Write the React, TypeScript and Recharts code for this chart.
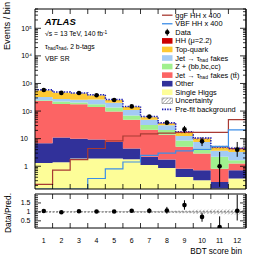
import React from 'react';
import { ComposedChart, Area, Line, Scatter, XAxis, YAxis, ErrorBar, ReferenceLine } from 'recharts';

// ---------------- data ----------------
const binLabels = ['1', '2', '3', '4', '5', '6', '7', '8', '9', '10', '11', '12'];

const singleHiggs = [1.3, 1.4, 1.9, 1.9, 1.9, 1.8, 1.1, 0.87, 0.41, 0.31, 0.155, 0.36];
const other = [5.5, 9.6, 8.0, 7.4, 5.7, 2.6, 1.1, 0.88, 0.41, 0.41, 0.115, 0.36];
const ttbarFakes = [225, 170, 167, 132, 88, 44, 19, 12, 4.3, 2.2, 0.55, 0.53];
const zHeavyFlavour = [15, 40, 28, 36, 38, 21, 10, 7, 3.4, 1.5, 1.4, 0.4];
const jetFakes = [75, 55, 55, 83, 66, 41, 17, 10, 4, 3.2, 1.4, 1.65];
const topQuark = [240, 190, 175, 110, 50, 30, 12, 5, 4, 2.4, 1.2, 0.8];
const hhSignal = [0.002, 0.004, 0.01, 0.02, 0.04, 0.07, 0.09, 0.1, 0.1, 0.1, 0.11, 0.35];

const ggFx400 = [0.22, 0.72, 1.75, 4.4, 8.3, 12.5, 15, 16, 17, 17, 17, 49];
const vbfx400 = [0.15, 0.15, 0.15, 0.36, 0.8, 1.43, 2.5, 3.0, 3.6, 4.1, 5.3, 21];
const prefitBkg = [595, 490, 455, 390, 262, 148, 63, 37.5, 18, 10.5, 5.0, 4.5];

const dataCounts = [580, 455, 450, 375, 252, 148, 63, 38, 22, 8, 1, 4];
const dataErrLow = [24, 21, 21, 19, 16, 12, 8, 6, 6, 2.6, 0.82, 1.8];
const dataErrHigh = [24, 21, 21, 19, 16, 12, 8, 7, 7, 3, 2.3, 3.6];

const uncRel = [0.04, 0.04, 0.04, 0.04, 0.04, 0.05, 0.05, 0.06, 0.08, 0.12, 0.13, 0.14];

const ratio = [1.05, 0.98, 1.04, 1.02, 1.02, 1.06, 1.06, 1.08, 1.38, 0.72, 0.15, 1.06];
const ratioErrLow = [0.04, 0.05, 0.05, 0.05, 0.06, 0.09, 0.14, 0.18, 0.26, 0.27, 0.05, 0.54];
const ratioErrHigh = [0.04, 0.05, 0.05, 0.05, 0.06, 0.09, 0.14, 0.2, 0.27, 0.23, 0.6, 0.9];

// tick values
const logMajorHigh = [100, 1000, 10000, 100000];
const logMajorLow = [1, 10];
const logMinor = [0.2, 0.3, 0.4, 0.5, 0.6, 0.7, 0.8, 0.9, 2, 3, 4, 5, 6, 7, 8, 9, 20, 30, 40, 50, 60, 70, 80, 90,
  200, 300, 400, 500, 600, 700, 800, 900, 2000, 3000, 4000, 5000, 6000, 7000, 8000, 9000,
  20000, 30000, 40000, 50000, 60000, 70000, 80000, 90000, 200000, 300000, 400000, 500000];
const ratioMajor = [0.5, 1, 1.5];
const ratioMinor = [0.2, 0.3, 0.4, 0.6, 0.7, 0.8, 0.9, 1.1, 1.2, 1.3, 1.4, 1.6, 1.7, 1.8, 1.9];

// ---------------- style ----------------
const FONT = '"Liberation Sans", Arial, Helvetica, sans-serif';
const W = 266;
const H = 255;
const Y_MIN = 0.15;
const Y_MAX = 5e5;
const R_MIN = 0.1;
const R_MAX = 2.0;
const EPS = 0.01;

const C = {
  singleHiggs: '#fdfd98',
  other: '#31319a',
  ttbar: '#fc6464',
  zhf: '#a0f08e',
  jet: '#a3cbf4',
  top: '#fec932',
  hh: '#cc0000',
  ggF: '#a83a33',
  vbf: '#3c8ee8',
  prefit: '#1c1cb4',
};

const stack = [
  { key: 'singleHiggs', values: singleHiggs, color: C.singleHiggs },
  { key: 'other', values: other, color: C.other },
  { key: 'ttbar', values: ttbarFakes, color: C.ttbar },
  { key: 'zhf', values: zHeavyFlavour, color: C.zhf },
  { key: 'jet', values: jetFakes, color: C.jet },
  { key: 'top', values: topQuark, color: C.top },
  { key: 'hh', values: hhSignal, color: C.hh },
];

const nBins = binLabels.length;
const edges = Array.from({ length: nBins + 1 }, (_, i) => i + 0.5);
const innerEdges = edges.slice(1, -1);
const centers = binLabels.map((_, i) => i + 1);

const stepRows = edges.map((x, i) => {
  const b = Math.min(i, nBins - 1);
  const row: Record<string, any> = { x };
  let cum = 0;
  for (const s of stack) {
    const lo = cum;
    cum += s.values[b];
    row[s.key] = [Math.max(lo, Y_MIN), Math.max(cum, Y_MIN)];
  }
  row.unc = [cum * (1 - uncRel[b]), cum * (1 + uncRel[b])];
  row.ratioUnc = [1 - uncRel[b], 1 + uncRel[b]];
  row.ggF = ggFx400[b];
  row.vbf = vbfx400[b];
  row.prefit = prefitBkg[b];
  return row;
});

const dataRows = centers.map((x, i) => ({ x, y: dataCounts[i], err: [dataErrLow[i], dataErrHigh[i]] }));
const ratioRows = centers.map((x, i) => ({ x, y: ratio[i], err: [ratioErrLow[i], ratioErrHigh[i]] }));

const SUP: Record<string, string> = { '0': '\u2070', '1': '\u00b9', '2': '\u00b2', '3': '\u00b3', '4': '\u2074', '5': '\u2075', '6': '\u2076', '7': '\u2077', '8': '\u2078', '9': '\u2079' };
const fmtLog = (v: number) => {
  const e = Math.round(Math.log10(v));
  if (e === 0) return '1';
  if (e === 1) return '10';
  return '10' + String(e).split('').map((d) => SUP[d]).join('');
};
const blank = () => '';

const tickText = { fontSize: 7, fill: '#000', fontFamily: FONT };
const frame = { stroke: '#000', strokeWidth: 1 };
const tl = { stroke: '#000', strokeWidth: 0.8 };

const DataDot = (p: any) => <circle cx={p.cx} cy={p.cy} r={2.3} fill="#000" />;

// ---------------- legend ----------------
const Sub = ({ children }: { children: React.ReactNode }) => (
  <>
    <tspan dy={1.6} fontSize={5}>{children}</tspan>
    <tspan dy={-1.6}>{'\u200a'}</tspan>
  </>
);

type LegendItem = { kind: string; color?: string; label: React.ReactNode };
const legendItems: LegendItem[] = [
  { kind: 'line', color: C.ggF, label: 'ggF HH x 400' },
  { kind: 'line', color: C.vbf, label: 'VBF HH x 400' },
  { kind: 'data', label: 'Data' },
  { kind: 'box', color: C.hh, label: 'HH (\u03bc=2.2)' },
  { kind: 'box', color: C.top, label: 'Top-quark' },
  { kind: 'box', color: C.jet, label: <>Jet {'\u2192'} {'\u03c4'}<Sub>had</Sub> fakes</> },
  { kind: 'box', color: C.zhf, label: 'Z + (bb,bc,cc)' },
  { kind: 'box', color: C.ttbar, label: <>Jet {'\u2192'} {'\u03c4'}<Sub>had</Sub> fakes (t{'t\u0304'})</> },
  { kind: 'box', color: C.other, label: 'Other' },
  { kind: 'box', color: C.singleHiggs, label: 'Single Higgs' },
  { kind: 'hatch', label: 'Uncertainty' },
  { kind: 'dotted', color: C.prefit, label: 'Pre-fit background' },
];

const LEG_X0 = 162;
const LEG_X1 = 172.5;
const LEG_TX = 175.3;
const LEG_Y0 = 15.2;
const LEG_DY = 8.56;

function Overlay() {
  return (
    <svg width={W} height={H} style={{ position: 'absolute', left: 0, top: 0, pointerEvents: 'none' }} fontFamily={FONT}>
      <defs>
        <pattern id="hatchLeg" patternUnits="userSpaceOnUse" width={2.5} height={2.5} patternTransform="rotate(45)">
          <line x1={0} y1={0} x2={0} y2={2.5} stroke="#555" strokeWidth={0.8} />
        </pattern>
      </defs>
      <text x={44.8} y={24.6} fontSize={9.5} fontWeight="bold" fontStyle="italic" fill="#000">ATLAS</text>
      <text x={45} y={36} fontSize={6.8} fill="#000">
        {'\u221a'}s = 13 TeV, 140 fb<tspan dy={-2.5} fontSize={4.8}>-1</tspan>
      </text>
      <text x={45} y={48.5} fontSize={6.8} fill="#000">
        {'\u03c4'}<tspan dy={1.6} fontSize={4.8}>had</tspan><tspan dy={-1.6}>{'\u03c4'}</tspan><tspan dy={1.6} fontSize={4.8}>had</tspan><tspan dy={-1.6}>, 2 b-tags</tspan>
      </text>
      <text x={45} y={61} fontSize={6.8} fill="#000">VBF SR</text>

      <text x={9.6} y={2} fontSize={9.2} textAnchor="end" transform="rotate(-90 9.6 2)" fill="#000">Events / bin</text>
      <text x={10.6} y={193} fontSize={8.4} textAnchor="end" transform="rotate(-90 10.6 193)" fill="#000">Data/Pred.</text>
      <text x={242} y={254} fontSize={8.2} textAnchor="end" fill="#000">BDT score bin</text>

      {legendItems.map((it, i) => {
        const cy = LEG_Y0 + i * LEG_DY;
        let sym: React.ReactNode = null;
        if (it.kind === 'line') {
          sym = <line x1={LEG_X0} x2={LEG_X1} y1={cy} y2={cy} stroke={it.color} strokeWidth={1.3} />;
        } else if (it.kind === 'data') {
          const cx = (LEG_X0 + LEG_X1) / 2;
          sym = (
            <g>
              <line x1={cx} x2={cx} y1={cy - 3.5} y2={cy + 3.5} stroke="#000" strokeWidth={0.9} />
              <circle cx={cx} cy={cy} r={2.2} fill="#000" />
            </g>
          );
        } else if (it.kind === 'box') {
          sym = <rect x={LEG_X0} y={cy - 2.8} width={LEG_X1 - LEG_X0} height={5.6} fill={it.color} />;
        } else if (it.kind === 'hatch') {
          sym = <rect x={LEG_X0} y={cy - 2.8} width={LEG_X1 - LEG_X0} height={5.6} fill="url(#hatchLeg)" stroke="#666" strokeWidth={0.5} />;
        } else if (it.kind === 'dotted') {
          sym = <line x1={LEG_X0} x2={LEG_X1} y1={cy} y2={cy} stroke={it.color} strokeWidth={1.6} strokeDasharray="1.4 1.2" />;
        }
        return (
          <g key={i}>
            {sym}
            <text x={LEG_TX} y={cy} dominantBaseline="central" fontSize={7.4} fill="#000">{it.label}</text>
          </g>
        );
      })}
    </svg>
  );
}

// inward tick axes (mirrored, no labels)
const yTickAxis = (id: string, side: 'left' | 'right', ticks: number[], size: number, log: boolean, domain: number[]) => (
  <YAxis key={id} yAxisId={id} type="number" scale={log ? 'log' : 'linear'} domain={domain} allowDataOverflow
    ticks={ticks} interval={0} orientation={side} mirror width={EPS} tickSize={size} tickLine={tl}
    tickFormatter={blank} tick={tickText} axisLine={side === 'right' ? frame : false} />
);

// ---------------- charts ----------------
function MainPanel() {
  const dom = [Y_MIN, Y_MAX];
  return (
    <div style={{ position: 'absolute', left: 0, top: 0 }}>
      <ComposedChart width={W} height={H} data={stepRows} margin={{ top: 9, right: 20, bottom: 66, left: 0 }}>
        <defs>
          <pattern id="hatchMain" patternUnits="userSpaceOnUse" width={2.5} height={2.5} patternTransform="rotate(45)">
            <line x1={0} y1={0} x2={0} y2={2.5} stroke="#444" strokeWidth={0.7} />
          </pattern>
        </defs>
        <XAxis xAxisId="m" dataKey="x" type="number" domain={[0.5, 12.5]} allowDataOverflow ticks={innerEdges} interval={0}
          orientation="bottom" mirror height={EPS} tickSize={5} tickLine={tl} tickFormatter={blank} tick={tickText}
          axisLine={frame} />
        <XAxis xAxisId="t" dataKey="x" type="number" domain={[0.5, 12.5]} allowDataOverflow ticks={innerEdges} interval={0}
          orientation="top" mirror height={EPS} tickSize={5} tickLine={tl} tickFormatter={blank} tick={tickText}
          axisLine={frame} />
        <YAxis yAxisId="m" type="number" scale="log" domain={dom} allowDataOverflow ticks={logMajorHigh} interval={0}
          orientation="left" width={35} tickSize={0} tickMargin={3} tickLine={false} tickFormatter={fmtLog}
          tick={tickText} axisLine={frame} />
        <YAxis yAxisId="lab2" type="number" scale="log" domain={dom} allowDataOverflow ticks={logMajorLow} interval={0}
          orientation="left" mirror width={EPS} tickSize={0} tickMargin={-7} tickLine={false} tickFormatter={fmtLog}
          tick={{ ...tickText, textAnchor: 'end' }} axisLine={false} />
        {yTickAxis('lmaj', 'left', [...logMajorLow, ...logMajorHigh], 6, true, dom)}
        {yTickAxis('lmin', 'left', logMinor, 3, true, dom)}
        {yTickAxis('rmaj', 'right', [...logMajorLow, ...logMajorHigh], 6, true, dom)}
        {yTickAxis('rmin', 'right', logMinor, 3, true, dom)}

        {stack.map((s) => (
          <Area key={s.key} xAxisId="m" yAxisId="m" dataKey={s.key} type="stepAfter" stroke="none" fill={s.color}
            fillOpacity={1} isAnimationActive={false} dot={false} activeDot={false} />
        ))}
        <Area xAxisId="m" yAxisId="m" dataKey="unc" type="stepAfter" stroke="none" fill="url(#hatchMain)"
          fillOpacity={1} isAnimationActive={false} dot={false} activeDot={false} />
        <Line xAxisId="m" yAxisId="m" dataKey="prefit" type="stepAfter" stroke={C.prefit} strokeWidth={1.5}
          strokeDasharray="1.4 1.2" dot={false} activeDot={false} isAnimationActive={false} />
        <Line xAxisId="m" yAxisId="m" dataKey="ggF" type="stepAfter" stroke={C.ggF} strokeWidth={1.2}
          dot={false} activeDot={false} isAnimationActive={false} />
        <Line xAxisId="m" yAxisId="m" dataKey="vbf" type="stepAfter" stroke={C.vbf} strokeWidth={1.2}
          dot={false} activeDot={false} isAnimationActive={false} />
        <Scatter xAxisId="m" yAxisId="m" data={dataRows} dataKey="y" shape={DataDot} isAnimationActive={false}>
          <ErrorBar dataKey="err" direction="y" width={0} stroke="#000" strokeWidth={1} isAnimationActive={false} />
        </Scatter>
      </ComposedChart>
    </div>
  );
}

function RatioPanel() {
  const dom = [R_MIN, R_MAX];
  return (
    <div style={{ position: 'absolute', left: 0, top: 0 }}>
      <ComposedChart width={W} height={H} data={stepRows} margin={{ top: 194, right: 20, bottom: 0, left: 0 }}>
        <defs>
          <pattern id="hatchRatio" patternUnits="userSpaceOnUse" width={2.5} height={2.5} patternTransform="rotate(45)">
            <line x1={0} y1={0} x2={0} y2={2.5} stroke="#444" strokeWidth={0.7} />
          </pattern>
        </defs>
        <XAxis xAxisId="m" dataKey="x" type="number" domain={[0.5, 12.5]} allowDataOverflow ticks={innerEdges} interval={0}
          orientation="bottom" mirror height={EPS} tickSize={5} tickLine={tl} tickFormatter={blank} tick={tickText}
          axisLine={frame} />
        <XAxis xAxisId="lab" dataKey="x" type="number" domain={[0.5, 12.5]} allowDataOverflow ticks={centers} interval={0}
          orientation="bottom" height={27} tickSize={0} tickMargin={10} tickLine={false}
          tickFormatter={(v: number) => binLabels[Math.round(v) - 1] ?? ''} tick={tickText} axisLine={false} />
        <XAxis xAxisId="t" dataKey="x" type="number" domain={[0.5, 12.5]} allowDataOverflow ticks={innerEdges} interval={0}
          orientation="top" mirror height={EPS} tickSize={5} tickLine={tl} tickFormatter={blank} tick={tickText}
          axisLine={frame} />
        <YAxis yAxisId="m" type="number" domain={dom} allowDataOverflow ticks={ratioMajor} interval={0}
          orientation="left" width={35} tickSize={0} tickMargin={4.5} tickLine={false}
          tickFormatter={(v: number) => String(v)} tick={tickText} axisLine={frame} />
        {yTickAxis('lmaj', 'left', ratioMajor, 6, false, dom)}
        {yTickAxis('lmin', 'left', ratioMinor, 3, false, dom)}
        {yTickAxis('rmaj', 'right', ratioMajor, 6, false, dom)}
        {yTickAxis('rmin', 'right', ratioMinor, 3, false, dom)}

        <Area xAxisId="m" yAxisId="m" dataKey="ratioUnc" type="stepAfter" stroke="none" fill="url(#hatchRatio)"
          fillOpacity={1} isAnimationActive={false} dot={false} activeDot={false} />
        <ReferenceLine xAxisId="m" yAxisId="m" y={1} stroke="#333" strokeWidth={0.8} strokeDasharray="2 1.5" />
        <Scatter xAxisId="m" yAxisId="m" data={ratioRows} dataKey="y" shape={DataDot} isAnimationActive={false}>
          <ErrorBar dataKey="err" direction="y" width={0} stroke="#000" strokeWidth={1} isAnimationActive={false} />
        </Scatter>
      </ComposedChart>
    </div>
  );
}

export default function App() {
  return (
    <div style={{ position: 'absolute', left: 0, top: 0, width: W, height: H, background: '#fff', overflow: 'hidden' }}>
      <MainPanel />
      <RatioPanel />
      <Overlay />
    </div>
  );
}
